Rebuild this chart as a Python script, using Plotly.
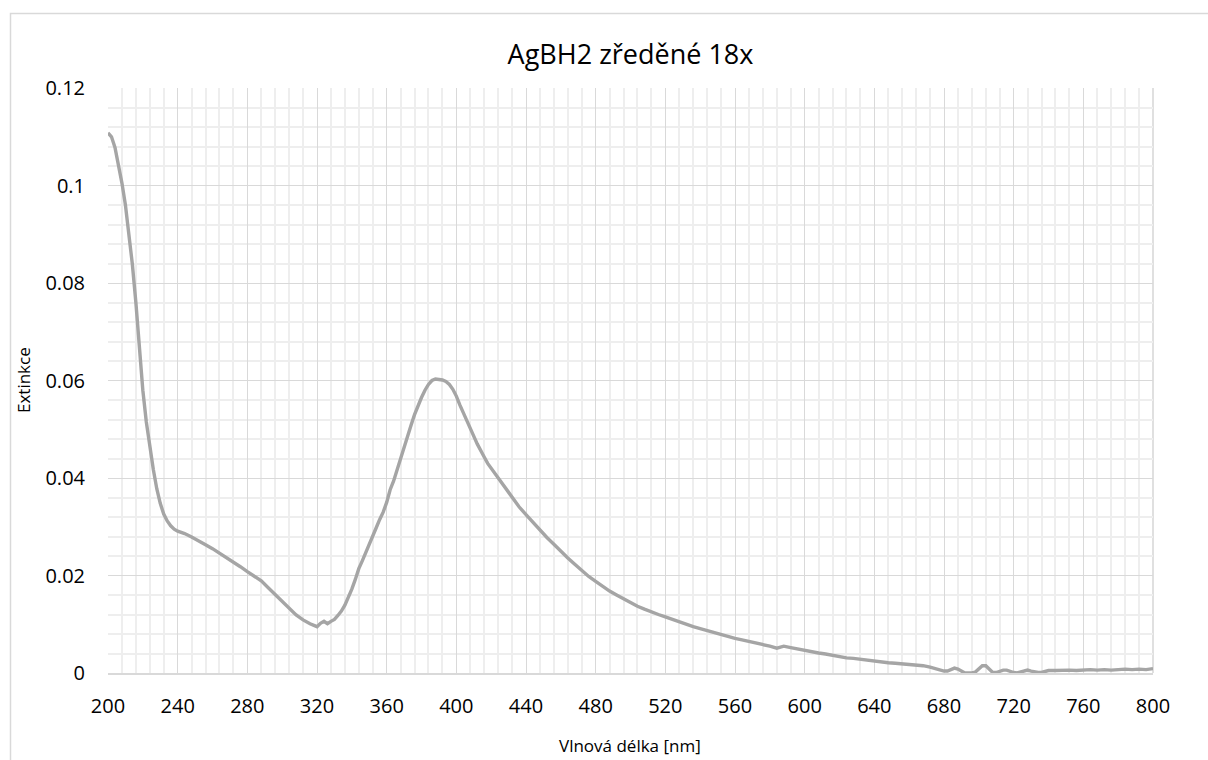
import plotly.graph_objects as go

# Absorption spectrum of the diluted AgBH2 sample
wavelength_nm = [
    200, 202, 204, 206, 208, 210, 212, 214, 216, 218, 220, 222, 224, 226, 228, 230,
    232, 234, 236, 238, 240, 244, 248, 252, 256, 260, 264, 268, 272, 276, 280, 284,
    288, 292, 296, 300, 304, 308, 312, 316, 320, 322, 324, 326, 328, 330, 332, 334,
    336, 338, 340, 342, 344, 346, 348, 350, 352, 354, 356, 358, 360, 362, 364, 366,
    368, 370, 372, 374, 376, 378, 380, 382, 384, 386, 388, 390, 392, 394, 396, 398,
    400, 402, 404, 406, 408, 410, 412, 414, 416, 418, 420, 424, 428, 432, 436, 440,
    444, 448, 452, 456, 460, 464, 468, 472, 476, 480, 484, 488, 492, 496, 500, 504,
    508, 512, 516, 520, 524, 528, 532, 536, 540, 544, 548, 552, 556, 560, 564, 568,
    572, 576, 580, 584, 586, 588, 592, 596, 600, 604, 608, 612, 616, 620, 624, 628,
    632, 636, 640, 644, 648, 652, 656, 660, 664, 668, 672, 676, 680, 682, 684, 686,
    688, 690, 692, 694, 696, 698, 700, 702, 704, 706, 708, 710, 712, 714, 716, 718,
    720, 722, 724, 726, 728, 730, 732, 734, 736, 738, 740, 744, 748, 752, 756, 760,
    764, 768, 772, 776, 780, 784, 788, 792, 796, 800,
]
extinction = [
    0.1108, 0.1100, 0.1078, 0.1045, 0.1005, 0.0960, 0.0905, 0.0838, 0.0760, 0.0665, 0.0580, 0.0515, 0.0465, 0.0418, 0.0378, 0.0348,
    0.0326, 0.0312, 0.0302, 0.0295, 0.0291, 0.0286, 0.0279, 0.0270, 0.0263, 0.0255, 0.0246, 0.0238, 0.0228, 0.0218, 0.0208, 0.0198,
    0.0189, 0.0175, 0.0161, 0.0147, 0.0132, 0.0119, 0.0109, 0.0101, 0.0095, 0.0102, 0.0106, 0.0101, 0.0106, 0.0110, 0.0118, 0.0127,
    0.0139, 0.0155, 0.0172, 0.0192, 0.0214, 0.0230, 0.0246, 0.0262, 0.0281, 0.0298, 0.0315, 0.0330, 0.0350, 0.0376, 0.0394, 0.0418,
    0.0442, 0.0466, 0.0488, 0.0508, 0.0530, 0.0550, 0.0565, 0.0580, 0.0592, 0.0600, 0.0603, 0.0602, 0.0601, 0.0598, 0.0592, 0.0582,
    0.0568, 0.0550, 0.0533, 0.0519, 0.0502, 0.0486, 0.0470, 0.0458, 0.0443, 0.0430, 0.0420, 0.0398, 0.0378, 0.0359, 0.0341, 0.0325,
    0.0309, 0.0293, 0.0278, 0.0264, 0.0249, 0.0236, 0.0223, 0.0210, 0.0198, 0.0188, 0.0177, 0.0168, 0.0160, 0.0152, 0.0144, 0.0137,
    0.0131, 0.0125, 0.0120, 0.0115, 0.0110, 0.0104, 0.0099, 0.0095, 0.0091, 0.0087, 0.0082, 0.0078, 0.0074, 0.0071, 0.0068, 0.0065,
    0.0062, 0.0059, 0.0055, 0.0051, 0.0053, 0.0055, 0.0052, 0.0049, 0.0046, 0.0043, 0.0041, 0.0039, 0.0036, 0.0034, 0.0031, 0.0030,
    0.0028, 0.0026, 0.0024, 0.0022, 0.0021, 0.0020, 0.0019, 0.0017, 0.0016, 0.0015, 0.0012, 0.0008, 0.0004, 0.0004, 0.0007, 0.0010,
    0.0008, 0.0003, 0.0000, 0.0000, 0.0000, 0.0002, 0.0008, 0.0015, 0.0015, 0.0007, 0.0001, 0.0001, 0.0003, 0.0006, 0.0006, 0.0003,
    0.0001, 0.0000, 0.0002, 0.0005, 0.0006, 0.0004, 0.0002, 0.0001, 0.0001, 0.0003, 0.0005, 0.0005, 0.0006, 0.0006, 0.0005, 0.0006,
    0.0007, 0.0006, 0.0007, 0.0006, 0.0007, 0.0008, 0.0007, 0.0008, 0.0007, 0.0009,
]

chart_title = "AgBH2 zředěné 18x"
x_title = "Vlnová délka [nm]"
y_title = "Extinkce"

W, H = 1208, 760
M_L, M_R, M_T, M_B = 108, 55, 88, 87
PW, PH = W - M_L - M_R, H - M_T - M_B

FONT = "Open Sans, Liberation Sans, sans-serif"


def px_x(p):
    return (p - M_L) / PW


def px_y(p):
    return 1 - (p - M_T) / PH


fig = go.Figure()
fig.add_trace(go.Scatter(
    x=wavelength_nm, y=extinction, mode="lines",
    line=dict(color="#A5A5A5", width=3.4),
    hoverinfo="x+y", showlegend=False,
))

fig.update_layout(
    width=W, height=H,
    margin=dict(l=M_L, r=M_R, t=M_T, b=M_B, pad=0),
    paper_bgcolor="white", plot_bgcolor="white",
    font=dict(family=FONT, color="#000000", size=18),
    title=dict(text=chart_title, x=0.5, xanchor="center", xref="paper",
               y=1 - 55 / H, yanchor="middle",
               font=dict(family=FONT, size=27, color="#000000")),
    xaxis=dict(
        range=[200, 800], tick0=200, dtick=40, showgrid=True,
        gridcolor="#D9D9D9", gridwidth=1.4,
        minor=dict(dtick=8, tick0=200, showgrid=True, gridcolor="#EEEEEE", gridwidth=1.5),
        zeroline=False, showline=True, linecolor="#D9D9D9", linewidth=1.6,
        ticks="", ticklabelstandoff=14,
        tickfont=dict(family=FONT, size=20, color="#000000"),
    ),
    yaxis=dict(
        range=[0, 0.12], tick0=0, dtick=0.02, showgrid=True,
        gridcolor="#D9D9D9", gridwidth=1.4,
        minor=dict(dtick=0.004, tick0=0, showgrid=True, gridcolor="#EEEEEE", gridwidth=1.5),
        zeroline=False, showline=False,
        ticks="", ticklabelstandoff=22,
        tickfont=dict(family=FONT, size=20, color="#000000"),
    ),
    annotations=[
        dict(text=x_title, xref="paper", yref="paper", x=px_x(630), y=px_y(745),
             xanchor="center", yanchor="middle", showarrow=False,
             font=dict(family=FONT, size=17, color="#000000")),
        dict(text=y_title, xref="paper", yref="paper", x=px_x(23), y=px_y(380),
             xanchor="center", yanchor="middle", showarrow=False, textangle=-90,
             font=dict(family=FONT, size=17, color="#000000")),
    ],
    shapes=[
        # outer chart frame
        dict(type="rect", xref="paper", yref="paper",
             x0=px_x(10.5), x1=px_x(1230), y0=px_y(790), y1=px_y(13.5),
             line=dict(color="#D9D9D9", width=1.5), fillcolor="rgba(0,0,0,0)", layer="below"),
        # right edge of plot area
        dict(type="line", xref="paper", yref="paper", x0=1, x1=1, y0=0, y1=1,
             line=dict(color="#D9D9D9", width=1.6), layer="below"),
    ],
)

fig.write_html("out.html")
